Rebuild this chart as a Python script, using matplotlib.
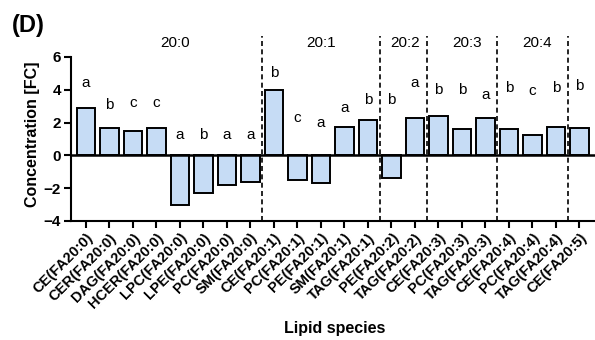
import matplotlib.pyplot as plt
import numpy as np

plt.rcParams['font.family'] = ['Liberation Sans', 'DejaVu Sans']

species = ["CE(FA20:0)", "CER(FA20:0)", "DAG(FA20:0)", "HCER(FA20:0)", "LPC(FA20:0)",
           "LPE(FA20:0)", "PC(FA20:0)", "SM(FA20:0)", "CE(FA20:1)", "PC(FA20:1)",
           "PE(FA20:1)", "SM(FA20:1)", "TAG(FA20:1)", "PE(FA20:2)", "TAG(FA20:2)",
           "CE(FA20:3)", "PC(FA20:3)", "TAG(FA20:3)", "CE(FA20:4)", "PC(FA20:4)",
           "TAG(FA20:4)", "CE(FA20:5)"]
values = [2.9, 1.7, 1.5, 1.65, -3.0, -2.3, -1.8, -1.6, 4.0, -1.5, -1.7, 1.75, 2.15,
          -1.4, 2.25, 2.4, 1.6, 2.25, 1.6, 1.25, 1.75, 1.65]
letters = ["a", "b", "c", "c", "a", "b", "a", "a", "b", "c", "a", "a", "b",
           "b", "a", "b", "b", "a", "b", "c", "b", "b"]
letter_y = [4.4, 3.1, 3.2, 3.2, 1.25, 1.25, 1.25, 1.25, 5.0, 2.3, 2.0, 2.9, 3.4,
            3.4, 4.4, 4.0, 4.0, 3.7, 4.1, 3.9, 4.1, 4.2]
groups = ["20:0", "20:1", "20:2", "20:3", "20:4"]
group_x = [3.8, 10.0, 13.6, 16.2, 19.2]
dividers = [7.5, 12.5, 14.5, 17.5, 20.5]

fig = plt.figure(figsize=(5.95, 3.40), dpi=100)
ax = fig.add_axes([0.119, 0.35, 0.881, 0.55])

x = np.arange(len(species))
ax.bar(x, values, width=0.78, color="#c6dcf5", edgecolor="black", linewidth=1.4, zorder=2)
ax.axhline(0, color="black", linewidth=1.8, zorder=3)

for d in dividers:
    ax.plot([d, d], [-4, 7.3], linestyle=(0, (3, 2)), color="black", linewidth=1.2,
            zorder=1, clip_on=False)

for xi, lt, ly in zip(x, letters, letter_y):
    ax.text(xi, ly, lt, ha="center", va="center", fontsize=11)

for g, gx in zip(groups, group_x):
    ax.text(gx, 6.85, g, ha="center", va="center", fontsize=11)

ax.set_xlim(-0.64, 21.66)
ax.set_ylim(-4, 7.4)
ax.set_yticks([-4, -2, 0, 2, 4, 6])
ax.spines['left'].set_bounds(-4, 6)
ax.spines['top'].set_visible(False)
ax.spines['right'].set_visible(False)
ax.spines['left'].set_linewidth(1.5)
ax.spines['bottom'].set_linewidth(1.5)
ax.tick_params(axis='both', width=1.5, length=5, pad=2)
ax.set_xticks(x)
ax.set_xticklabels(species, rotation=45, ha="right", rotation_mode="anchor",
                   fontsize=10.5, fontweight="bold")
for lab in ax.get_yticklabels():
    lab.set_fontweight("bold")
    lab.set_fontsize(11)

ax.set_ylabel("Concentration [FC]", fontsize=11.5, fontweight="bold")
ax.yaxis.set_label_coords(-0.058, 5.3 / 11.4)
fig.text(0.563, 0.035, "Lipid species", ha="center", va="center", fontsize=11.5, fontweight="bold")
fig.text(0.02, 0.925, "(D)", fontsize=17, fontweight="bold", ha="left", va="center")

fig.savefig("out.png", dpi=100)
